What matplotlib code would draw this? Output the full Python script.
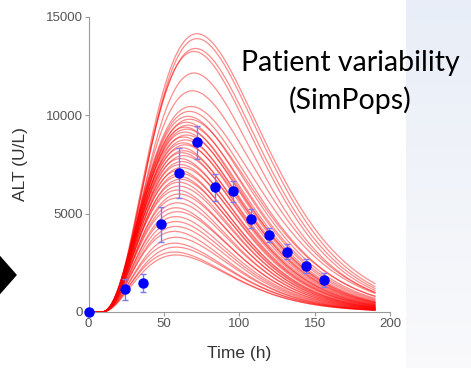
import matplotlib.pyplot as plt
import numpy as np
from matplotlib.patches import Polygon

# observed ALT data (mean +/- sd)
obs_time = [0, 24, 36, 48, 60, 72, 84, 96, 108, 120, 132, 144, 156]
obs_alt = [0, 1150, 1490, 4460, 7070, 8630, 6340, 6140, 4750, 3930, 3070, 2320, 1640]
obs_err = [0, 520, 460, 900, 1270, 840, 690, 540, 480, 350, 400, 350, 350]

# simulated patients (SimPops): peak ALT, time of peak, ALT at end of run (190 h)
peak_alt = [14150, 13900, 13400, 13250, 12150, 11250, 10450, 10200,
            9950, 9800, 9650, 9500, 9400, 9300, 9150, 9000, 8900, 8750,
            8600, 8500, 8350, 8200, 8100, 7950, 7800, 7650, 7500, 7350,
            7200, 7050, 6900, 6750, 6600,
            6400, 6200, 6000, 5800, 5550, 5300, 5100, 4850, 4600, 4350,
            4100, 3800, 3500, 3300, 3050, 2900]
peak_time = [72, 72, 71, 70, 70, 69, 68, 67,
             66, 67, 65, 66, 64, 65, 64, 65, 63, 64,
             63, 64, 62, 63, 62, 63, 61, 62, 61, 62,
             60, 61, 60, 61, 60,
             60, 59, 60, 59, 59, 58, 59, 58, 58, 58,
             57, 58, 57, 58, 57, 58]
end_alt = [1450, 1300, 1200, 1100, 1000, 1000, 950, 800,
           700, 800, 600, 650, 500, 550, 480, 520, 420, 460,
           400, 450, 350, 380, 330, 360, 300, 320, 280, 300,
           250, 260, 230, 240, 210,
           220, 190, 200, 170, 180, 150, 160, 140, 130, 120,
           110, 110, 100, 100, 90, 90]

t_onset = 8.0
t_end = 190.0
t = np.linspace(t_onset, t_end, 400)

fig = plt.figure(figsize=(4.71, 3.68), dpi=100)

# light slide background on the right
bg = fig.add_axes([406 / 471, 0, 65 / 471, 1], zorder=-5)
grad = np.linspace(0, 1, 256).reshape(-1, 1)
top_c = np.array([0.91, 0.932, 0.97])
bot_c = np.array([0.978, 0.978, 0.986])
img = top_c + (bot_c - top_c) * grad[..., None]
bg.imshow(img, aspect='auto', extent=[0, 1, 0, 1], origin='upper')
bg.set_axis_off()

ax = fig.add_axes([88.5 / 471, 56 / 368, 301.5 / 471, 295 / 368])

for A, tp, E in zip(peak_alt, peak_time, end_alt):
    xe = (t_end - t_onset) / (tp - t_onset)
    k = np.log(E / A) / np.log(xe * np.exp(1 - xe))
    x = (t - t_onset) / (tp - t_onset)
    y = A * (x * np.exp(1 - x)) ** k
    ax.plot(np.concatenate([[0], t]), np.concatenate([[0], y]),
            color=(1, 0, 0), alpha=0.45, lw=0.9, zorder=2)

ax.errorbar(obs_time, obs_alt, yerr=obs_err, fmt='none', ecolor='#7a7af2',
            elinewidth=1, capsize=2.5, capthick=1, zorder=3, clip_on=False)
ax.plot(obs_time, obs_alt, 'o', color='#0000ff', markersize=6.5, zorder=4,
        clip_on=False)

ax.set_xlim(0, 200)
ax.set_ylim(0, 15000)
ax.set_xticks([0, 50, 100, 150, 200])
ax.set_yticks([0, 5000, 10000, 15000])
for s in ['top', 'right']:
    ax.spines[s].set_visible(False)
for s in ['left', 'bottom']:
    ax.spines[s].set_color('#9a9a9a')
ax.tick_params(direction='out', length=3, width=0.8, color='#9a9a9a',
               labelsize=9.5, labelcolor='#555555', pad=1)
for lab in ax.get_xticklabels() + ax.get_yticklabels():
    lab.set_family('Liberation Sans')
ax.set_xlabel('Time (h)', fontsize=12.5, color='#333333', family='Liberation Sans', labelpad=12)
ax.set_ylabel('ALT (U/L)', fontsize=12.5, color='#333333', family='Liberation Sans', labelpad=13)
ax.patch.set_alpha(0)

fig.text(350 / 471, 1 - 63 / 368, 'Patient variability', ha='center', va='center',
         fontsize=20.5, family='Lato', color='black')
fig.text(350 / 471, 1 - 100 / 368, '(SimPops)', ha='center', va='center',
         fontsize=20.5, family='Lato', color='black')

# arrow head pointing at the chart
tri = Polygon([[-6 / 471, 1 - 250 / 368], [16 / 471, 1 - 275 / 368], [-6 / 471, 1 - 300 / 368]],
              closed=True, transform=fig.transFigure, color='black', clip_on=False)
fig.patches.append(tri)

fig.savefig('out.png', dpi=100)
